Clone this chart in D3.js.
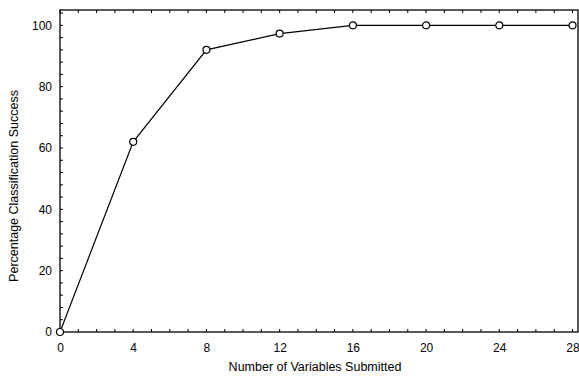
<!DOCTYPE html>
<html>
<head>
<meta charset="utf-8">
<script src="https://cdn.jsdelivr.net/npm/d3@7"></script>
<style>
  body { margin: 0; background: #fff; }
  svg { display: block; }
  text { font-family: "Liberation Sans", Arial, sans-serif; fill: #000; }
</style>
</head>
<body>
<div id="chart"></div>
<script>
// number of variables submitted vs classification success (%)
const variables = [0, 4, 8, 12, 16, 20, 24, 28];
const success = [0, 62, 92, 97.3, 100, 100, 100, 100];
const xTicks = [0, 4, 8, 12, 16, 20, 24, 28];
const yTicks = [0, 20, 40, 60, 80, 100];

const width = 579, height = 376;
const margin = {top: 10, right: 1, bottom: 44, left: 60};
const w = width - margin.left - margin.right;
const h = height - margin.top - margin.bottom;

const svg = d3.select('#chart').append('svg')
    .attr('width', width)
    .attr('height', height);

const g = svg.append('g')
    .attr('transform', `translate(${margin.left}, ${margin.top})`);

const x = d3.scaleLinear().domain([0, 28.3]).range([0, w]);
const y = d3.scaleLinear().domain([0, 105]).range([h, 0]);

// frame
g.append('rect')
    .attr('width', w)
    .attr('height', h)
    .attr('fill', 'none')
    .attr('stroke', '#000')
    .attr('stroke-width', 1.3);

// minor ticks, pointing inwards
const xMinor = d3.range(0, 29, 1);
const yMinor = d3.range(0, 105, 4);

g.selectAll('.xt-bottom')
    .data(xMinor)
    .join('line')
    .attr('x1', d => x(d)).attr('x2', d => x(d))
    .attr('y1', h).attr('y2', h - 3)
    .attr('stroke', '#000');

g.selectAll('.xt-top')
    .data(xMinor)
    .join('line')
    .attr('x1', d => x(d)).attr('x2', d => x(d))
    .attr('y1', 0).attr('y2', 3)
    .attr('stroke', '#000');

g.selectAll('.yt-left')
    .data(yMinor)
    .join('line')
    .attr('x1', 0).attr('x2', 3)
    .attr('y1', d => y(d)).attr('y2', d => y(d))
    .attr('stroke', '#000');

// axis labels
const xAxis = d3.axisBottom(x).tickValues(xTicks).tickSize(0).tickPadding(11);
const yAxis = d3.axisLeft(y).tickValues(yTicks).tickSize(0).tickPadding(8);

g.append('g')
    .attr('transform', `translate(0, ${h})`)
    .call(xAxis)
    .call(a => a.select('.domain').remove())
    .selectAll('text')
    .style('font-size', '12px')
    .style('font-family', '"Liberation Sans", Arial, sans-serif');

g.append('g')
    .call(yAxis)
    .call(a => a.select('.domain').remove())
    .selectAll('text')
    .style('font-size', '12px')
    .style('font-family', '"Liberation Sans", Arial, sans-serif');

// line + markers
const data = variables.map((v, i) => ({v: v, s: success[i]}));

g.append('path')
    .datum(data)
    .attr('fill', 'none')
    .attr('stroke', '#000')
    .attr('stroke-width', 1.2)
    .attr('d', d3.line().x(d => x(d.v)).y(d => y(d.s)));

g.selectAll('.pt')
    .data(data)
    .join('circle')
    .attr('cx', d => x(d.v))
    .attr('cy', d => y(d.s))
    .attr('r', 3.5)
    .attr('fill', '#fff')
    .attr('stroke', '#000')
    .attr('stroke-width', 1.2);

// titles
svg.append('text')
    .attr('x', 315)
    .attr('y', 371)
    .attr('text-anchor', 'middle')
    .style('font-size', '12.5px')
    .text('Number of Variables Submitted');

svg.append('text')
    .attr('transform', 'translate(18, 186) rotate(-90)')
    .attr('text-anchor', 'middle')
    .style('font-size', '12.5px')
    .text('Percentage Classification Success');
</script>
</body>
</html>
